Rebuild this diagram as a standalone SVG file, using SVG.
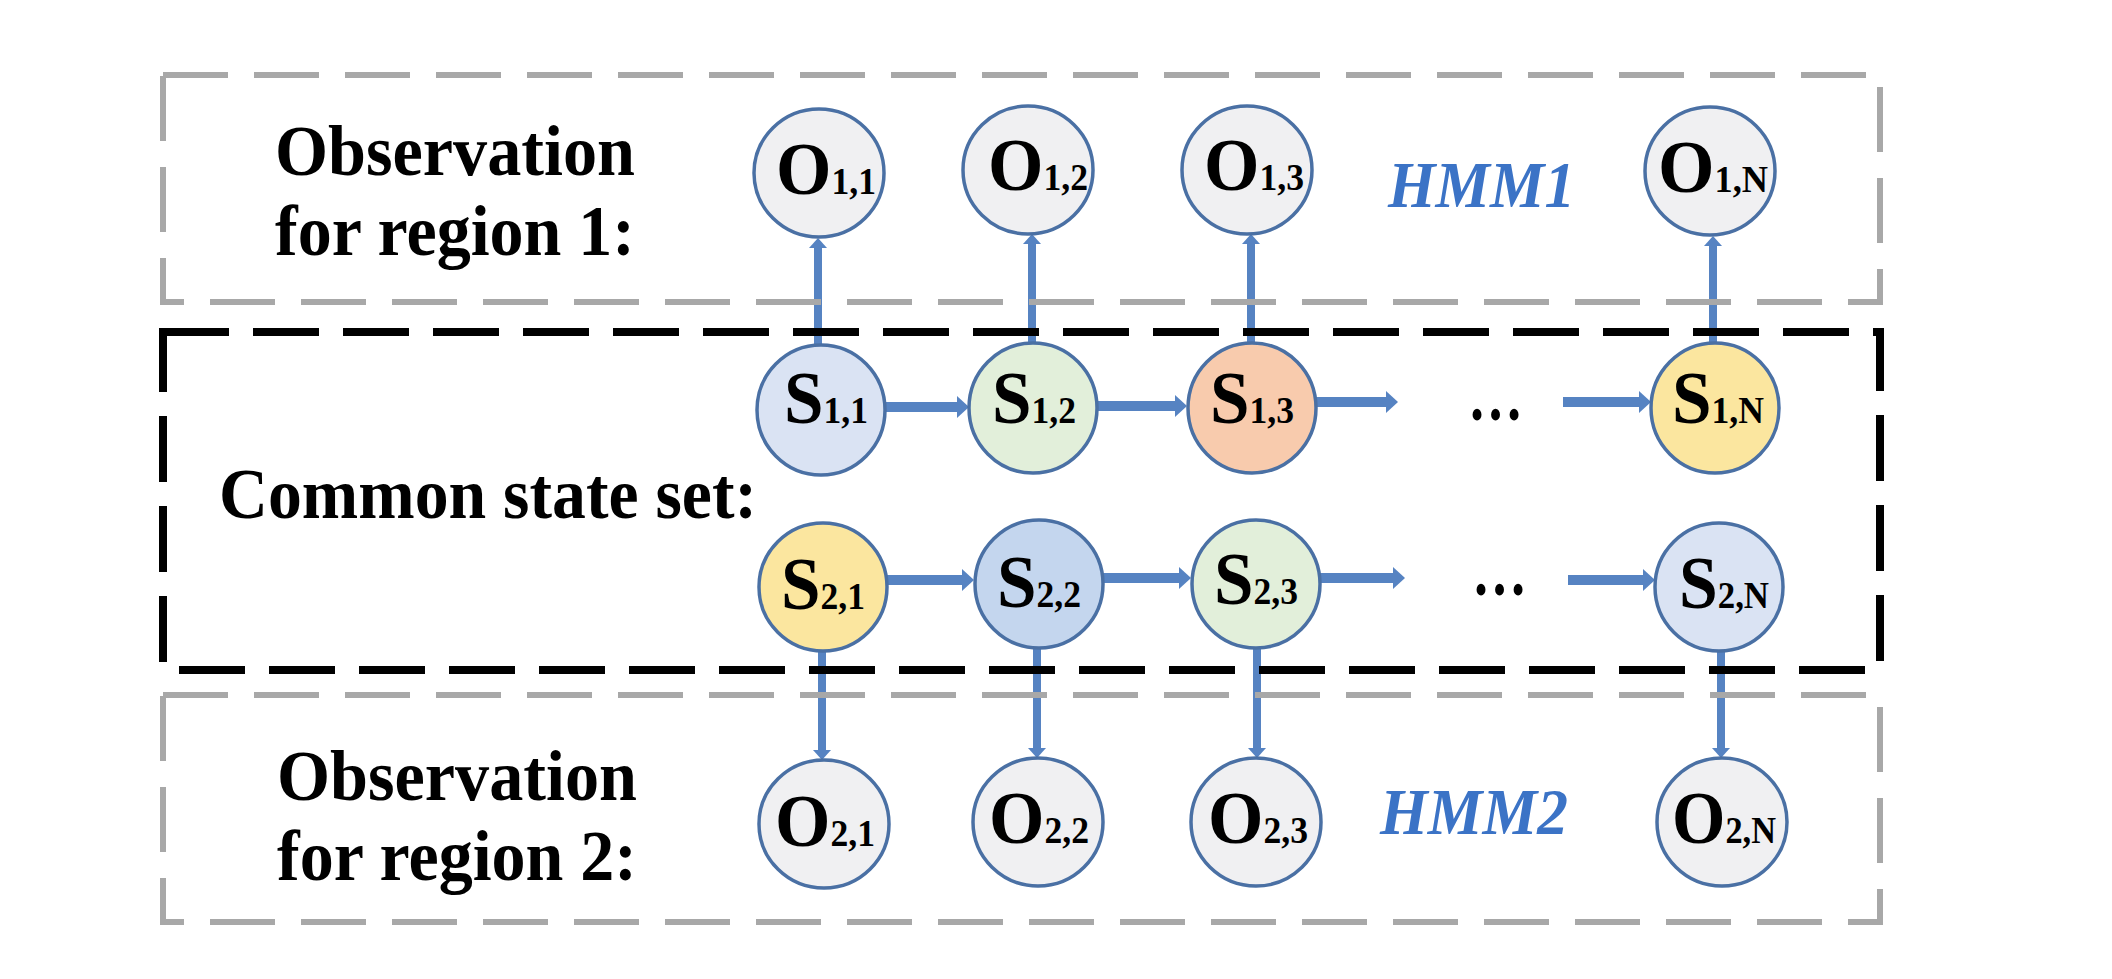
<svg xmlns="http://www.w3.org/2000/svg" width="2112" height="979" viewBox="0 0 2112 979">
<style>
.gbox{fill:none;stroke:#a8a8a8;stroke-width:6;stroke-dasharray:65 26}
.kbox{fill:none;stroke:#000;stroke-width:8;stroke-dasharray:66 24}
.nd{stroke:#4a70a4;stroke-width:3.5}
.o{fill:#f0f0f2}
.lbl{font-family:"Liberation Serif","Times New Roman",serif;font-weight:bold;fill:#000;text-anchor:middle}
.big{font-size:74px}
.sub{font-size:37px}
.side{font-family:"Liberation Serif","Times New Roman",serif;font-weight:bold;font-size:72px;fill:#000}
.hmm{font-family:"Liberation Serif","Times New Roman",serif;font-weight:bold;font-style:italic;font-size:66px;fill:#3b73c6}
.h{stroke:#5683c2;stroke-width:10;fill:none}
.v{stroke:#5683c2;stroke-width:8;fill:none}
</style>
<defs>
<marker id="ah" markerUnits="userSpaceOnUse" markerWidth="12" markerHeight="22" refX="2" refY="11" orient="auto"><path d="M0,0 L12,11 L0,22 z" fill="#5683c2"/></marker>
<marker id="av" markerUnits="userSpaceOnUse" markerWidth="10" markerHeight="18" refX="2" refY="9" orient="auto"><path d="M0,0 L10,9 L0,18 z" fill="#5683c2"/></marker>
</defs>
<rect width="2112" height="979" fill="#fff"/>

<g id="connectors">
<line class="v" x1="818" y1="345" x2="818" y2="246" marker-end="url(#av)"/>
<line class="v" x1="1032" y1="343" x2="1032" y2="242" marker-end="url(#av)"/>
<line class="v" x1="1251" y1="343" x2="1251" y2="242" marker-end="url(#av)"/>
<line class="v" x1="1713" y1="345" x2="1713" y2="244" marker-end="url(#av)"/>
<line class="v" x1="822" y1="650" x2="822" y2="752" marker-end="url(#av)"/>
<line class="v" x1="1037" y1="648" x2="1037" y2="750" marker-end="url(#av)"/>
<line class="v" x1="1257" y1="648" x2="1257" y2="750" marker-end="url(#av)"/>
<line class="v" x1="1721" y1="651" x2="1721" y2="750" marker-end="url(#av)"/>
<line class="h" x1="885" y1="407" x2="959" y2="407" marker-end="url(#ah)"/>
<line class="h" x1="1097" y1="406" x2="1177" y2="406" marker-end="url(#ah)"/>
<line class="h" x1="1316" y1="402" x2="1388" y2="402" marker-end="url(#ah)"/>
<line class="h" x1="1563" y1="402" x2="1641" y2="402" marker-end="url(#ah)"/>
<line class="h" x1="887" y1="580" x2="964" y2="580" marker-end="url(#ah)"/>
<line class="h" x1="1103" y1="578" x2="1181" y2="578" marker-end="url(#ah)"/>
<line class="h" x1="1320" y1="578" x2="1395" y2="578" marker-end="url(#ah)"/>
<line class="h" x1="1568" y1="580" x2="1645" y2="580" marker-end="url(#ah)"/>
</g>

<g id="boxes">
<rect id="region1" class="gbox" x="163" y="75" width="1717" height="227"/>
<rect id="common" class="kbox" x="163" y="332" width="1717" height="338"/>
<rect id="region2" class="gbox" x="163" y="695" width="1717" height="227"/>
</g>

<g id="labels">
<text class="side" x="275" y="175" textLength="360" lengthAdjust="spacingAndGlyphs">Observation</text>
<text class="side" x="275" y="255" textLength="360" lengthAdjust="spacingAndGlyphs">for region 1:</text>
<text class="side" x="219" y="518" textLength="538" lengthAdjust="spacingAndGlyphs">Common state set:</text>
<text class="side" x="277" y="800" textLength="360" lengthAdjust="spacingAndGlyphs">Observation</text>
<text class="side" x="277" y="880" textLength="360" lengthAdjust="spacingAndGlyphs">for region 2:</text>
<text class="hmm" x="1388" y="207" textLength="187" lengthAdjust="spacingAndGlyphs">HMM1</text>
<text class="hmm" x="1380" y="834" textLength="188" lengthAdjust="spacingAndGlyphs">HMM2</text>
<text class="side" x="1468" y="420" font-size="64" textLength="55" lengthAdjust="spacingAndGlyphs">…</text>
<text class="side" x="1472" y="595" font-size="64" textLength="55" lengthAdjust="spacingAndGlyphs">…</text>
</g>

<g id="O11"><ellipse class="nd o" cx="819" cy="173" rx="65" ry="64"/><text class="lbl" x="826" y="194" textLength="100" lengthAdjust="spacingAndGlyphs"><tspan class="big">O</tspan><tspan class="sub">1,1</tspan></text></g>
<g id="O12"><ellipse class="nd o" cx="1028" cy="170" rx="65" ry="64"/><text class="lbl" x="1038" y="190" textLength="100" lengthAdjust="spacingAndGlyphs"><tspan class="big">O</tspan><tspan class="sub">1,2</tspan></text></g>
<g id="O13"><ellipse class="nd o" cx="1247" cy="170" rx="65" ry="64"/><text class="lbl" x="1254" y="190" textLength="100" lengthAdjust="spacingAndGlyphs"><tspan class="big">O</tspan><tspan class="sub">1,3</tspan></text></g>
<g id="O1N"><ellipse class="nd o" cx="1710" cy="171" rx="65" ry="64"/><text class="lbl" x="1713" y="192" textLength="110" lengthAdjust="spacingAndGlyphs"><tspan class="big">O</tspan><tspan class="sub">1,N</tspan></text></g>

<g id="S11"><ellipse class="nd" fill="#dae3f3" cx="821" cy="410" rx="64" ry="65"/><text class="lbl" x="826" y="423" textLength="84" lengthAdjust="spacingAndGlyphs"><tspan class="big">S</tspan><tspan class="sub">1,1</tspan></text></g>
<g id="S12"><ellipse class="nd" fill="#e2efda" cx="1033" cy="408" rx="64" ry="65"/><text class="lbl" x="1034" y="423" textLength="84" lengthAdjust="spacingAndGlyphs"><tspan class="big">S</tspan><tspan class="sub">1,2</tspan></text></g>
<g id="S13"><ellipse class="nd" fill="#f8cbad" cx="1252" cy="408" rx="64" ry="65"/><text class="lbl" x="1252" y="423" textLength="84" lengthAdjust="spacingAndGlyphs"><tspan class="big">S</tspan><tspan class="sub">1,3</tspan></text></g>
<g id="S1N"><ellipse class="nd" fill="#fbe69f" cx="1715" cy="408" rx="64" ry="65"/><text class="lbl" x="1718" y="423" textLength="92" lengthAdjust="spacingAndGlyphs"><tspan class="big">S</tspan><tspan class="sub">1,N</tspan></text></g>

<g id="S21"><ellipse class="nd" fill="#fbe69f" cx="823" cy="587" rx="64" ry="64"/><text class="lbl" x="823" y="609" textLength="84" lengthAdjust="spacingAndGlyphs"><tspan class="big">S</tspan><tspan class="sub">2,1</tspan></text></g>
<g id="S22"><ellipse class="nd" fill="#c4d6ee" cx="1039" cy="584" rx="64" ry="64"/><text class="lbl" x="1039" y="607" textLength="84" lengthAdjust="spacingAndGlyphs"><tspan class="big">S</tspan><tspan class="sub">2,2</tspan></text></g>
<g id="S23"><ellipse class="nd" fill="#e2efda" cx="1256" cy="584" rx="64" ry="64"/><text class="lbl" x="1256" y="604" textLength="84" lengthAdjust="spacingAndGlyphs"><tspan class="big">S</tspan><tspan class="sub">2,3</tspan></text></g>
<g id="S2N"><ellipse class="nd" fill="#dae3f3" cx="1719" cy="587" rx="64" ry="64"/><text class="lbl" x="1724" y="608" textLength="90" lengthAdjust="spacingAndGlyphs"><tspan class="big">S</tspan><tspan class="sub">2,N</tspan></text></g>

<g id="O21"><ellipse class="nd o" cx="824" cy="824" rx="65" ry="64"/><text class="lbl" x="825" y="846" textLength="100" lengthAdjust="spacingAndGlyphs"><tspan class="big">O</tspan><tspan class="sub">2,1</tspan></text></g>
<g id="O22"><ellipse class="nd o" cx="1038" cy="822" rx="65" ry="64"/><text class="lbl" x="1039" y="843" textLength="100" lengthAdjust="spacingAndGlyphs"><tspan class="big">O</tspan><tspan class="sub">2,2</tspan></text></g>
<g id="O23"><ellipse class="nd o" cx="1256" cy="822" rx="65" ry="64"/><text class="lbl" x="1258" y="843" textLength="100" lengthAdjust="spacingAndGlyphs"><tspan class="big">O</tspan><tspan class="sub">2,3</tspan></text></g>
<g id="O2N"><ellipse class="nd o" cx="1722" cy="822" rx="65" ry="64"/><text class="lbl" x="1724" y="843" textLength="104" lengthAdjust="spacingAndGlyphs"><tspan class="big">O</tspan><tspan class="sub">2,N</tspan></text></g>
</svg>
